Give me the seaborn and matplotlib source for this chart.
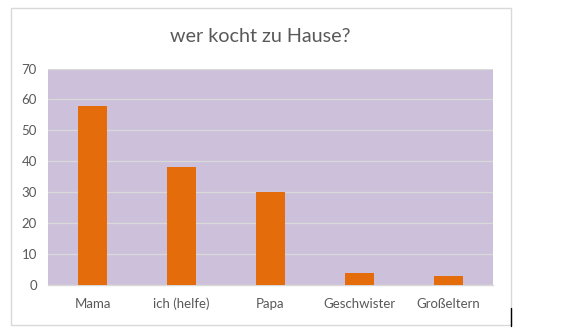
import matplotlib
matplotlib.use("Agg")
import matplotlib.pyplot as plt
import seaborn as sns
import pandas as pd
from matplotlib.patches import Rectangle
from matplotlib.lines import Line2D

categories = ["Mama", "ich (helfe)", "Papa", "Geschwister", "Großeltern"]
values = [58, 38, 30, 4, 3]
yticks = [0, 10, 20, 30, 40, 50, 60, 70]
title = "wer kocht zu Hause?"

df = pd.DataFrame({"wer": categories, "anzahl": values})

sns.set_theme(style="white")
plt.rcParams["font.family"] = ["Lato", "DejaVu Sans"]

W, H = 561, 335
fig = plt.figure(figsize=(W / 100, H / 100), dpi=100)
ax = fig.add_axes([48 / W, 1 - 285 / H, (493 - 48) / W, (285 - 68.5) / H])

sns.barplot(data=df, x="wer", y="anzahl", color="#E46C0A", saturation=1,
            width=0.315, linewidth=0, ax=ax, zorder=3)

ax.set_facecolor("#CCC0DA")
ax.set_ylim(0, 70)
ax.set_xlim(-0.5, len(categories) - 0.5)
ax.set_yticks(yticks)
ax.yaxis.grid(True, color="#D9D9D9", linewidth=1, zorder=1)
ax.set_axisbelow(True)
for s in ["top", "left", "right"]:
    ax.spines[s].set_visible(False)
ax.spines["bottom"].set_color("#D9D9D9")
ax.spines["bottom"].set_linewidth(1)
ax.set_xlabel("")
ax.set_ylabel("")
ax.tick_params(axis="both", length=0, labelsize=9.5, colors="#595959")
ax.tick_params(axis="x", pad=9)
ax.tick_params(axis="y", pad=8)

fig.text(260 / W, 1 - 36 / H, title, ha="center", va="center",
         fontsize=14.2, color="#595959")

# chart frame
fig.patches.append(Rectangle((10.5 / W, 1 - 324.5 / H), 500 / W, 317 / H,
                             transform=fig.transFigure, fill=False,
                             edgecolor="#D9D9D9", linewidth=1))
fig.lines.append(Line2D([511 / W, 511 / W], [1 - 308 / H, 1 - 326 / H],
                        transform=fig.transFigure, color="black", linewidth=1))

fig.savefig("out.png", dpi=100, facecolor="white")
